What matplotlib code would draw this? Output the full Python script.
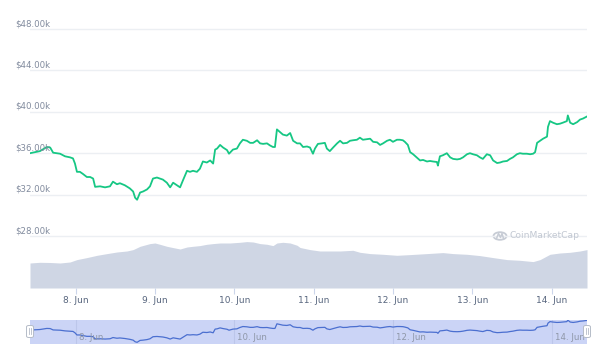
import matplotlib
matplotlib.use("Agg")
import matplotlib.pyplot as plt
import matplotlib.transforms as mtransforms
from matplotlib.patches import Circle, FancyBboxPatch
import numpy as np

# ---- data (hours since 7 Jun 00:00) ----
price_hours = [10.2, 13.2, 15.3, 16.3, 17.2, 19.3, 20.8, 22.3, 23.2, 23.8, 24.4, 25.3, 26.2, 27.4, 28.4,
               29.3, 29.9, 31.4, 32.9, 34.4, 35.3, 36.5, 37.4, 38.9, 40.4, 41.4, 42.0, 42.6, 43.5, 44.4,
               45.6, 46.5, 47.4, 48.6, 50.4, 51.6, 52.6, 53.5, 54.7, 55.6, 56.5, 57.7, 58.6, 59.5, 60.7,
               61.6, 62.5, 63.7, 64.7, 65.6, 66.2, 66.8, 67.7, 68.6, 69.8, 70.4, 71.6, 72.8, 73.7, 74.6,
               75.8, 76.8, 77.7, 78.9, 79.8, 80.7, 81.9, 82.8, 83.7, 84.3, 84.9, 85.8, 86.7, 87.9, 88.9,
               89.8, 91.0, 91.9, 92.8, 94.0, 94.9, 95.8, 96.4, 97.3, 98.5, 99.4, 100.0, 100.9, 101.9, 103.1,
               104.0, 104.9, 106.1, 107.0, 107.9, 109.1, 110.0, 110.9, 112.1, 113.1, 114.0, 115.2, 116.1,
               117.0, 118.2, 119.1, 120.0, 121.2, 122.1, 123.0, 123.6, 124.5, 125.2, 126.1, 127.3, 128.2,
               129.1, 130.3, 131.2, 132.1, 133.3, 133.6, 134.2, 135.1, 136.3, 137.3, 138.2, 139.4, 140.3,
               141.2, 142.4, 143.3, 144.2, 145.4, 146.3, 147.2, 148.4, 149.4, 150.3, 151.5, 152.4, 153.3,
               154.5, 155.4, 156.3, 157.5, 158.4, 159.3, 160.5, 161.5, 162.4, 163.0, 163.6, 164.5, 165.4,
               166.6, 166.9, 167.5, 168.4, 169.6, 170.5, 171.4, 172.6, 172.9, 173.6, 174.5, 175.7, 176.6,
               177.5, 178.7]
price_k = [36.0, 36.2, 36.6, 36.55, 36.05, 35.95, 35.7, 35.6, 35.5, 35.0, 34.2, 34.2, 34.0, 33.7, 33.7,
           33.55, 32.75, 32.8, 32.7, 32.8, 33.25, 33.0, 33.1, 32.9, 32.6, 32.3, 31.7, 31.5, 32.2, 32.3,
           32.5, 32.8, 33.55, 33.65, 33.45, 33.15, 32.7, 33.15, 32.9, 32.7, 33.4, 34.3, 34.2, 34.3, 34.2,
           34.5, 35.2, 35.1, 35.3, 35.0, 36.35, 36.45, 36.8, 36.55, 36.3, 35.95, 36.35, 36.45, 36.95, 37.3,
           37.2, 37.0, 37.0, 37.25, 36.95, 36.9, 36.95, 36.75, 36.6, 36.6, 38.3, 38.05, 37.8, 37.7, 37.95,
           37.2, 36.95, 36.95, 36.6, 36.65, 36.55, 35.95, 36.45, 36.9, 36.95, 37.0, 36.45, 36.2, 36.55, 36.95,
           37.2, 36.95, 37.0, 37.2, 37.25, 37.3, 37.5, 37.3, 37.35, 37.4, 37.1, 37.05, 36.8,
           36.95, 37.2, 37.3, 37.1, 37.3, 37.3, 37.25, 37.1, 36.8, 36.1, 35.9, 35.55, 35.3,
           35.35, 35.2, 35.25, 35.2, 35.15, 34.8, 35.7, 35.8, 36.0, 35.6, 35.45, 35.4, 35.45,
           35.6, 35.9, 36.0, 35.9, 35.8, 35.6, 35.45, 35.9, 35.8, 35.3, 35.05, 35.1, 35.2,
           35.25, 35.45, 35.6, 35.9, 36.0, 35.95, 35.95, 35.9, 35.95, 36.1, 37.0, 37.2, 37.4,
           37.6, 38.55, 39.1, 38.95, 38.8, 38.85, 38.95, 39.1, 39.65, 38.95, 38.8, 39.0, 39.25,
           39.35, 39.55]

volume_hours = [10.2, 13.2, 16.3, 19.3, 22.3, 24.4, 27.4, 30.5, 33.5, 36.5, 39.5, 41.4, 43.5, 46.5, 48.0,
                49.5, 51.6, 53.5, 55.6, 57.7, 59.5, 61.6, 63.7, 65.6, 67.7, 70.7, 73.7, 75.8, 77.7, 79.8,
                81.9, 83.7, 84.9, 86.7, 88.9, 91.0, 91.9, 94.9, 97.9, 100.9, 104.0, 107.9, 110.0, 113.1,
                117.0, 121.2, 125.2, 130.3, 135.1, 138.2, 142.4, 146.3, 150.3, 154.5, 158.4, 162.4, 164.5,
                167.5, 170.5, 173.6, 176.6, 178.7]
volume_b = [25, 25.7, 25.5, 25, 26, 28.4, 30.4, 32.7, 34.4, 36, 37, 38.4, 41.7, 44.4, 45,
            43.7, 41.7, 40.4, 39, 41, 41.7, 42.4, 43.7, 44.4, 45, 45, 45.7, 46.4, 46, 44.4,
            43.7, 42.4, 45, 45.7, 45, 42.7, 40.5, 38.4, 37, 37, 37, 37.7, 35.7, 34.4,
            33.7, 32.7, 33.4, 34.4, 35.4, 34.4, 33.7, 32.4, 30.4, 28.4, 27.7, 26.4, 28.4,
            33.7, 35, 35.7, 37, 38.4]

price_ticks = [28000, 32000, 36000, 40000, 44000, 48000]
price_tick_labels = ["$28.00k", "$32.00k", "$36.00k", "$40.00k", "$44.00k", "$48.00k"]
day_ticks = [24, 48, 72, 96, 120, 144, 168]
day_labels = ["8. Jun", "9. Jun", "10. Jun", "11. Jun", "12. Jun", "13. Jun", "14. Jun"]
nav_ticks = [24, 72, 120, 168]
nav_labels = ["8. Jun", "10. Jun", "12. Jun", "14. Jun"]

W, H = 600, 351
fig = plt.figure(figsize=(6, 3.51), dpi=100)
fig.patch.set_facecolor("white")

def rect(x0, y0, x1, y1):
    return [x0 / W, (H - y1) / H, (x1 - x0) / W, (y1 - y0) / H]

XMIN, XMAX = 10.2, 178.7
L, R = 30, 587

# main price axes
ax = fig.add_axes(rect(L, 20, R, 288))
axv = ax.twinx()
ax.set_zorder(2)
ax.patch.set_visible(False)
axv.set_zorder(1)

axv.fill_between(volume_hours, 0, volume_b, color="#cfd6e4", lw=0)
axv.set_ylim(0, 268)
axv.set_yticks([])
for s in axv.spines.values():
    s.set_visible(False)

ax.plot(np.array(price_hours), np.array(price_k) * 1000, color="#16c784", lw=1.3, zorder=3)
ax.set_xlim(XMIN, XMAX)
ax.set_ylim(22976, 48870)
ax.set_yticks(price_ticks)
ax.yaxis.grid(True, color="#eceff3", lw=1)
ax.tick_params(axis="y", left=False, labelleft=False)
for s in ax.spines.values():
    s.set_visible(False)
ax.set_xticks(day_ticks)
ax.set_xticklabels(day_labels)
ax.tick_params(axis="x", length=4, width=0.8, color="#ccd6eb", pad=1.5,
               labelsize=6.5, labelcolor="#58667e")
axv.set_xlim(XMIN, XMAX)

ytr = mtransforms.blended_transform_factory(ax.transAxes, ax.transData)
offs = mtransforms.ScaledTranslation(0, 1 / 100, fig.dpi_scale_trans)
for v, lab in zip(price_ticks, price_tick_labels):
    ax.text((15 - L) / (R - L), v, lab, transform=ytr + offs, ha="left", va="bottom",
            fontsize=6.2, color="#808a9d")

# watermark
wm_y = 236
circ = Circle((500 / W, (H - wm_y) / H), 6.5 / W, transform=fig.transFigure,
              fill=False, ec="#c7ccd5", lw=1.3)
fig.patches.append(circ)
mx = np.array([496.5, 498.5, 500.5, 502.0, 503.5]) / W
my = (H - np.array([238.5, 233.5, 237.5, 233.5, 238.5])) / H
fig.lines.append(plt.Line2D(mx, my, transform=fig.transFigure, color="#c7ccd5", lw=1.1))
fig.text(509 / W, (H - wm_y) / H, "CoinMarketCap", fontsize=6.6, color="#c2c8d2",
         ha="left", va="center")

# navigator
nav = fig.add_axes(rect(L, 320, R, 344))
nav.set_facecolor("#cbd4f6")
for t in nav_ticks:
    nav.axvline(t, color="#bcc6ea", lw=0.8, zorder=1)
nav.plot(price_hours, price_k, color="#4b6fd0", lw=0.9, zorder=3)
nav.set_xlim(XMIN, XMAX)
nav.set_ylim(30.88, 39.7)
nav.set_xticks([])
nav.set_yticks([])
for s in nav.spines.values():
    s.set_visible(False)
ntr = mtransforms.blended_transform_factory(nav.transData, nav.transAxes)
noff = mtransforms.ScaledTranslation(3 / 100, 0, fig.dpi_scale_trans)
for t, lab in zip(nav_ticks, nav_labels):
    nav.text(t, 0.1, lab, transform=ntr + noff, ha="left", va="bottom",
             fontsize=6.2, color="#8f97a8", zorder=4)

# handles
for hx in (L, R):
    fb = FancyBboxPatch(((hx - 3.5) / W, (H - 337.5) / H), 7 / W, 12 / H,
                        boxstyle="round,pad=0,rounding_size=0.004",
                        transform=fig.transFigure, fc="white", ec="#b5bcc8", lw=0.7, zorder=10)
    fig.patches.append(fb)
    for dx in (-1, 1):
        fig.lines.append(plt.Line2D([(hx + dx) / W] * 2, [(H - 334) / H, (H - 328) / H],
                                    transform=fig.transFigure, color="#b5bcc8", lw=0.6, zorder=11))

fig.savefig("out.png", dpi=100)
